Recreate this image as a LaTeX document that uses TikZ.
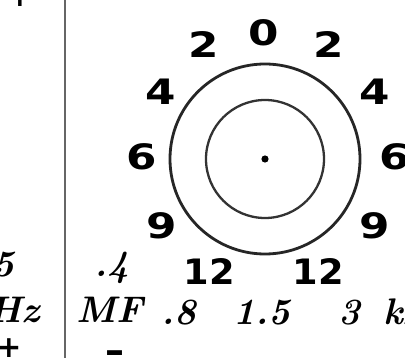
\documentclass[tikz,border=0pt]{standalone}
\usepackage{fontspec}
\newfontfamily\dialfont{DejaVu Sans}
\newcommand\wide[1]{\scalebox{1.25}[1]{#1}}
\newcommand\widetwo[1]{\scalebox{1.05}[1]{#1}}
\begin{document}
\begin{tikzpicture}[x=1pt,y=-1pt,
  dial/.style={inner sep=0pt, font=\dialfont\bfseries\fontsize{35}{35}\selectfont},
  freq/.style={inner sep=0pt, anchor=base, font=\bfseries\itshape\fontsize{37}{37}\selectfont},
  sign/.style={inner sep=0pt, font=\dialfont\bfseries\fontsize{30}{30}\selectfont},
  dash sign/.style={inner sep=0pt, font=\dialfont\bfseries\fontsize{38}{38}\selectfont}]
\useasboundingbox (0,0) rectangle (405,358);
\clip (0,0) rectangle (405,358);
% divider
\draw[line width=2pt, black!60] (65,-5) coordinate (dtop) -- (65,365) coordinate (dbot);
% circles
\coordinate (c) at (265,159);
\draw[line width=2.8pt, black!85] (c) circle[radius=95];
\draw[line width=2.3pt, black!80] (c) circle[radius=59];
\fill (c) circle[radius=3.6];
% dial numbers
\node[dial] (n0) at (264,33) {\wide{0}};
\node[dial] (n2l) at (204,45) {\wide{2}};
\node[dial] (n2r) at (329,45) {\wide{2}};
\node[dial] (n4l) at (161,92) {\wide{4}};
\node[dial] (n4r) at (375,92) {\wide{4}};
\node[dial] (n6l) at (142,157) {\wide{6}};
\node[dial] (n6r) at (395,157) {\wide{6}};
\node[dial] (n9l) at (162,226) {\wide{9}};
\node[dial] (n9r) at (375,226) {\wide{9}};
\node[dial] (n12l) at (209,272) {\widetwo{12}};
\node[dial] (n12r) at (318,272) {\widetwo{12}};
% frequency labels
\node[freq, anchor=base east] (f5) at (15,277) {5};
\node[freq, anchor=base east] (fhz) at (40,323) {Hz};
\node[freq] (f4) at (112,277) {.4};
\node[freq] (fmf) at (110,323) {MF};
\node[freq] (f8) at (179,325) {.8};
\node[freq] (f15) at (262,325) {1.5};
\node[freq] (f3) at (349,325) {3};
\node[freq, anchor=base west] (fkhz) at (383,325) {kHz};
% signs
\node[sign] (ptop) at (20,-3) {+};
\node[sign] (pbot) at (9,348) {+};
\node[dash sign, anchor=base] (mtop) at (117,8) {\textendash};
\node[dash sign, anchor=base] (mbot) at (115,364) {\textendash};
\end{tikzpicture}
\end{document}
